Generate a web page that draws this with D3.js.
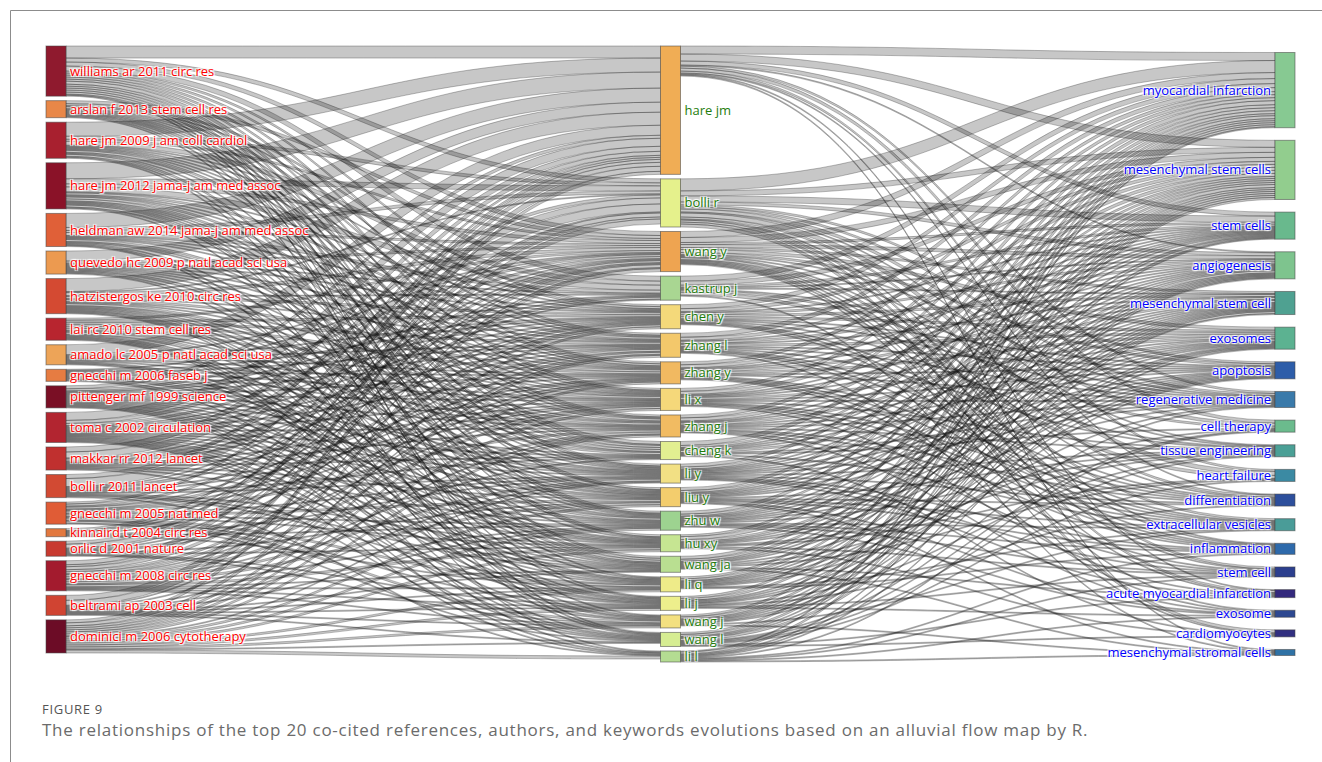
<!DOCTYPE html>
<html>
<head>
<meta charset="utf-8">
<script src="https://cdn.jsdelivr.net/npm/d3@7"></script>
<style>
  html, body { margin: 0; padding: 0; background: #fff; }
  svg { display: block; }
  .node-label {
    font-family: "Open Sans", sans-serif;
    font-size: 13px;
    text-shadow: 1px 1px 1px #fff, 1px -1px 1px #fff, -1px 1px 1px #fff, -1px -1px 1px #fff;
  }
  .caption-title { font-family: "Open Sans", sans-serif; font-size: 13px; fill: #555; letter-spacing: 0.7px; }
  .caption-text { font-family: "Open Sans", sans-serif; font-size: 17px; fill: #6b6b6b; letter-spacing: 0.75px; }
</style>
</head>
<body>
<svg id="chart" width="1322" height="762"></svg>
<script>
// Three fields: co-cited references -> authors -> keywords
const references = [
  "williams ar 2011 circ res", "arslan f 2013 stem cell res", "hare jm 2009 j am coll cardiol",
  "hare jm 2012 jama-j am med assoc", "heldman aw 2014 jama-j am med assoc",
  "quevedo hc 2009 p natl acad sci usa", "hatzistergos ke 2010 circ res", "lai rc 2010 stem cell res",
  "amado lc 2005 p natl acad sci usa", "gnecchi m 2006 faseb j", "pittenger mf 1999 science",
  "toma c 2002 circulation", "makkar rr 2012 lancet", "bolli r 2011 lancet", "gnecchi m 2005 nat med",
  "kinnaird t 2004 circ res", "orlic d 2001 nature", "gnecchi m 2008 circ res",
  "beltrami ap 2003 cell", "dominici m 2006 cytotherapy"
];

const authors = [
  "hare jm", "bolli r", "wang y", "kastrup j", "chen y", "zhang l", "zhang y", "li x", "zhang j",
  "cheng k", "li y", "liu y", "zhu w", "hu xy", "wang ja", "li q", "li j", "wang j", "wang l", "li l"
];

const keywords = [
  "myocardial infarction", "mesenchymal stem cells", "stem cells", "angiogenesis",
  "mesenchymal stem cell", "exosomes", "apoptosis", "regenerative medicine", "cell therapy",
  "tissue engineering", "heart failure", "differentiation", "extracellular vesicles",
  "inflammation", "stem cell", "acute myocardial infarction", "exosome", "cardiomyocytes",
  "mesenchymal stromal cells"
];

// rows: references, columns: authors (same order as the authors list)
const referenceAuthorCounts = [
  [12,4,4,5,2,2,2,2,2,3,2,2,2,2,2,0,1,0,1,0],
  [0,0,3,0,2,1,2,1,1,1,1,1,1,1,0,1,0,1,0,0],
  [14,3,2,4,1,1,1,1,1,2,1,0,1,0,2,0,1,0,1,0],
  [16,5,3,5,1,2,1,1,2,2,1,1,1,1,2,1,0,0,1,0],
  [14,3,2,3,1,1,1,1,0,2,1,1,0,0,1,0,0,1,0,1],
  [10,0,2,1,1,1,1,1,1,1,0,1,1,0,1,0,1,0,0,0],
  [13,1,3,1,2,1,2,1,1,2,1,1,1,1,1,1,1,1,0,0],
  [0,0,2,0,2,2,2,2,2,0,1,1,2,1,0,1,1,1,1,1],
  [10,0,1,0,1,1,1,1,1,0,1,0,0,1,1,1,0,0,0,0],
  [0,0,1,0,1,1,1,1,1,0,1,1,1,1,0,0,1,0,1,0],
  [3,0,2,1,1,1,1,1,1,1,1,1,1,1,1,1,1,1,1,1],
  [8,3,2,1,1,1,1,1,1,1,1,1,1,1,1,1,1,1,1,1],
  [5,6,1,2,1,1,0,1,1,1,0,1,1,0,1,0,0,0,1,0],
  [4,8,1,1,1,0,1,1,0,1,1,0,0,1,1,1,0,0,0,1],
  [2,0,2,0,1,2,1,1,2,0,1,2,1,1,0,2,1,2,1,0],
  [2,1,1,0,0,1,0,0,0,0,1,0,1,0,0,1,0,0,0,0],
  [3,4,1,0,1,0,1,1,0,0,0,1,0,1,0,0,1,1,0,0],
  [4,2,3,0,2,2,1,2,2,1,2,2,1,2,1,1,1,1,0,0],
  [5,5,1,0,0,1,0,0,1,0,1,0,1,0,1,1,1,1,1,0],
  [3,0,3,0,2,2,2,2,2,0,1,2,2,2,0,2,2,2,1,3]
];

// rows: authors, columns: keywords (same order as the keywords list)
const authorKeywordCounts = [
  [8,7,4,1,0,0,0,2,3,0,2,1,0,0,0,1,0,0,1],
  [12,5,6,3,0,0,2,2,3,1,4,2,0,1,2,2,0,3,0],
  [6,5,2,3,2,3,2,1,0,1,0,1,2,1,1,1,1,1,0],
  [5,4,2,1,1,0,0,1,2,0,3,0,0,0,0,0,0,0,1],
  [4,3,1,2,2,2,1,1,0,1,0,1,1,1,0,0,0,0,0],
  [4,3,1,2,1,2,1,1,0,1,0,1,1,1,0,0,1,0,0],
  [3,3,1,1,2,2,1,1,0,0,0,1,1,1,1,0,0,0,0],
  [3,3,1,1,1,2,1,1,0,1,0,1,1,1,0,1,0,0,0],
  [3,3,1,1,2,1,1,1,0,1,0,1,1,0,1,0,1,0,0],
  [4,2,1,1,1,2,0,1,1,0,0,0,1,0,0,0,0,1,0],
  [3,2,1,1,1,1,1,1,0,1,0,1,0,1,1,1,0,0,0],
  [3,2,1,1,1,1,1,0,0,1,0,1,1,1,0,0,1,0,1],
  [3,2,1,1,1,1,1,1,0,1,0,0,1,1,1,0,1,0,0],
  [2,3,0,2,1,1,1,0,0,1,1,0,0,0,1,0,0,1,0],
  [3,2,1,1,1,0,1,0,1,0,1,0,0,0,0,1,0,0,1],
  [2,2,1,1,1,1,1,1,0,0,0,0,1,1,0,0,0,0,0],
  [2,2,0,1,1,1,1,0,0,1,0,1,0,0,1,0,1,0,0],
  [2,2,1,1,1,1,1,0,0,0,0,0,1,0,0,0,0,0,1],
  [2,2,1,1,2,0,0,1,1,1,1,0,0,0,0,1,0,1,0],
  [1,2,0,1,1,1,0,0,1,0,0,0,0,1,1,0,1,0,1]
];

// node fill palettes, one colour per node in list order
const referenceColors = [
  "#8f1a2e","#e88748","#a8202f","#8a1228","#e06038","#ec9a50","#d44a32","#b8252f","#eda458","#e67c42",
  "#7a0f25","#b22530","#c0302f","#d24a33","#e05c36","#e2783f","#c83a30","#a31b2e","#d04432","#6c0c26"
];
const authorColors = [
  "#f0ad55","#e5f18c","#eea451","#a9d692","#f4d97a","#f3c86b","#f1b961","#f5d87a","#f1bb62","#e2ef91",
  "#f2e084","#f3cd6d","#9dd390","#c6e592","#b9df91","#eeeb89","#edef8c","#f3e080","#d6ed92","#b4dc92"
];
const keywordColors = [
  "#87c992","#92cd8e","#69b98d","#7ec48e","#4fa191","#5cb291","#2d5da9","#3a7aaa","#6bbb8d","#4ba096",
  "#3b8aa3","#2d4f9c","#4a9c98","#2e6aab","#2c3f8e","#33297d","#2d4891","#312f80","#2f72a5"
];
const labelColors = ["#ff0000", "#1f7d0c", "#0000ff"];

// ---- layout ----
const svg = d3.select("#chart");
const yTop = 46, yBottom = 662, nodeWidth = 20, minPad = 4.5, sparseInset = 6.5;

const columns = [
  [references, referenceColors],
  [authors, authorColors],
  [keywords, keywordColors]
].map(([names, colors], c) =>
  names.map((name, i) => ({ name, col: c, idx: i, color: colors[i], inLinks: [], outLinks: [] }))
);

const links = [];
referenceAuthorCounts.forEach((row, i) => row.forEach((v, j) => {
  if (v > 0) links.push({ source: columns[0][i], target: columns[1][j], value: v });
}));
authorKeywordCounts.forEach((row, i) => row.forEach((v, j) => {
  if (v > 0) links.push({ source: columns[1][i], target: columns[2][j], value: v });
}));
links.forEach(l => { l.source.outLinks.push(l); l.target.inLinks.push(l); });

const allNodes = columns.flat();
allNodes.forEach(n => {
  n.value = Math.max(d3.sum(n.inLinks, l => l.value), d3.sum(n.outLinks, l => l.value));
});

const x = d3.scalePoint().domain([0, 1, 2]).range([46, 1275]);
const ky = d3.min(columns, col => (yBottom - yTop - (col.length - 1) * minPad) / d3.sum(col, n => n.value));
const size = d3.scaleLinear().domain([0, 1]).range([0, ky]);

columns.forEach(col => {
  const total = d3.sum(col, n => size(n.value));
  let pad = (yBottom - yTop - total) / (col.length - 1);
  let y = yTop;
  if (pad < 2 * minPad) {
    // densely filled column: minimum gap, stacked from the top
    pad = minPad;
  } else {
    // sparse column: spread over a slightly inset band
    pad = (yBottom - yTop - 2 * sparseInset - total) / (col.length - 1);
    y = yTop + sparseInset;
  }
  col.forEach(n => {
    n.x0 = x(n.col);
    n.x1 = n.x0 + nodeWidth;
    n.y0 = y;
    n.y1 = y + size(n.value);
    y = n.y1 + pad;
  });
});

// stack link ends within each node, ordered by the position of the other end
allNodes.forEach(n => {
  n.outLinks.sort((a, b) => a.target.y0 - b.target.y0);
  n.inLinks.sort((a, b) => a.source.y0 - b.source.y0);
  let sy = n.y0;
  n.outLinks.forEach(l => { l.sy = sy; sy += size(l.value); });
  let ty = n.y0;
  n.inLinks.forEach(l => { l.ty = ty; ty += size(l.value); });
});

function ribbon(l) {
  const xs = l.source.x1, xt = l.target.x0, xm = (xs + xt) / 2;
  const w = size(l.value);
  const p = d3.path();
  p.moveTo(xs, l.sy);
  p.bezierCurveTo(xm, l.sy, xm, l.ty, xt, l.ty);
  p.lineTo(xt, l.ty + w);
  p.bezierCurveTo(xm, l.ty + w, xm, l.sy + w, xs, l.sy + w);
  p.closePath();
  return p.toString();
}

// figure frame
svg.append("line").attr("x1", 10.5).attr("y1", 10.5).attr("x2", 1322).attr("y2", 10.5)
  .attr("stroke", "#8c8c8c").attr("stroke-width", 1);
svg.append("line").attr("x1", 10.5).attr("y1", 10.5).attr("x2", 10.5).attr("y2", 762)
  .attr("stroke", "#8c8c8c").attr("stroke-width", 1);

// links
svg.append("g")
  .selectAll("path")
  .data(links)
  .join("path")
  .attr("d", ribbon)
  .attr("fill", "rgba(0,0,0,0.22)")
  .attr("stroke", "rgba(30,30,30,0.5)")
  .attr("stroke-width", 0.6);

// nodes
svg.append("g")
  .selectAll("rect")
  .data(allNodes)
  .join("rect")
  .attr("x", d => d.x0)
  .attr("y", d => d.y0)
  .attr("width", nodeWidth)
  .attr("height", d => d.y1 - d.y0)
  .attr("fill", d => d.color)
  .attr("stroke", "rgba(70,70,70,0.55)")
  .attr("stroke-width", 1);

// labels
svg.append("g")
  .selectAll("text")
  .data(allNodes)
  .join("text")
  .attr("class", "node-label")
  .attr("x", d => d.col === 2 ? d.x0 - 4 : d.x1 + 4)
  .attr("y", d => (d.y0 + d.y1) / 2)
  .attr("dy", "0.35em")
  .attr("text-anchor", d => d.col === 2 ? "end" : "start")
  .attr("fill", d => labelColors[d.col])
  .text(d => d.name);

// caption
svg.append("text").attr("class", "caption-title").attr("x", 42).attr("y", 714).text("FIGURE 9");
svg.append("text").attr("class", "caption-text").attr("x", 42).attr("y", 736)
  .text("The relationships of the top 20 co-cited references, authors, and keywords evolutions based on an alluvial flow map by R.");
</script>
</body>
</html>
